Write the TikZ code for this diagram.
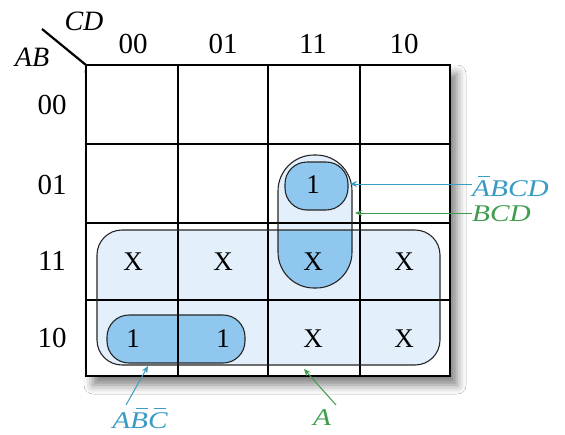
\documentclass[tikz,border=0pt]{standalone}
\usepackage{fontspec}
\setmainfont{Liberation Serif}
\usetikzlibrary{shadows.blur,arrows.meta}
\definecolor{lightfill}{HTML}{E3EFFA}
\definecolor{darkfill}{HTML}{8FC7EE}
\definecolor{tealc}{HTML}{3A9CC4}
\definecolor{greenc}{HTML}{3F9E4E}
\newcommand{\ovl}[1]{\leavevmode\makebox[0pt][l]{\hspace{0.2em}\rule[0.8em]{0.42em}{0.045em}}#1}
\tikzset{
  hdr/.style={font=\fontsize{29}{32}\selectfont, inner sep=0pt},
  cell/.style={font=\fontsize{27}{30}\selectfont, inner sep=0pt},
  lbl/.style={font=\fontsize{24}{27}\selectfont\itshape, inner sep=0pt, xscale=1.22, anchor=west},
  grid/.style={line width=2.2pt, black},
  outl/.style={line width=1.1pt, black!85},
  tarrow/.style={line width=1pt, -{Stealth[length=7pt,width=6pt]}},
}
\begin{document}
\begin{tikzpicture}[x=1pt,y=-1pt]
\useasboundingbox (0,0) rectangle (565,434);
\fill[white] (0,0) rectangle (565,434);
% shadow
\fill[white, blur shadow={shadow xshift=7pt, shadow yshift=-9pt, shadow blur radius=9pt, shadow opacity=50}] (86,65) rectangle (450,376);
% group fills
\fill[lightfill, rounded corners=25pt] (97,230) rectangle (440,365);
\fill[lightfill, rounded corners=36pt] (278,155) rectangle (352,288);
\begin{scope}
  \clip[rounded corners=25pt] (97,230) rectangle (440,365);
  \fill[darkfill, rounded corners=36pt] (278,155) rectangle (352,288);
\end{scope}
\fill[darkfill, rounded corners=22pt] (285,162) rectangle (348,210);
\fill[darkfill, rounded corners=22pt] (107,315) rectangle (245,363);
% grid
\draw[grid] (86,65) rectangle (450,376);
\foreach \x in {178,268,360} \draw[grid] (\x,65) -- (\x,376);
\foreach \y in {144,223,300} \draw[grid] (86,\y) -- (450,\y);
\draw[line width=2.2pt] (42,29) -- (86,65);
% group outlines
\draw[outl, rounded corners=25pt] (97,230) rectangle (440,365);
\draw[outl, rounded corners=36pt] (278,155) rectangle (352,288);
\draw[outl, rounded corners=22pt] (285,162) rectangle (348,210);
\draw[outl, rounded corners=22pt] (107,315) rectangle (245,363);
\coordinate (gABCD) at (350,184);
\coordinate (gBCD) at (355,213);
\coordinate (gABC) at (148,366);
\coordinate (gA) at (304,369);
% headers
\node[hdr, font=\fontsize{28}{31}\selectfont\itshape] (cd) at (84,21) {CD};
\node[hdr, font=\fontsize{28}{31}\selectfont\itshape] (ab) at (32,57) {AB};
\node[hdr] (c00) at (133,44) {00};
\node[hdr] (c01) at (223,44) {01};
\node[hdr] (c11) at (313,44) {11};
\node[hdr] (c10) at (404,44) {10};
\node[hdr] (r00) at (52,105) {00};
\node[hdr] (r01) at (52,185) {01};
\node[hdr] (r11) at (52,261) {11};
\node[hdr] (r10) at (52,338) {10};
% cell contents
\node[cell] (m1) at (313,185) {1};
\node[cell] (x1) at (133,262) {X};
\node[cell] (x2) at (223,262) {X};
\node[cell] (x3) at (313,262) {X};
\node[cell] (x4) at (404,262) {X};
\node[cell] (m2) at (133,339) {1};
\node[cell] (m3) at (223,339) {1};
\node[cell] (x5) at (313,339) {X};
\node[cell] (x6) at (404,339) {X};
% labels
\node[lbl, text=tealc] (lABCD) at (472,186) {\ovl{A}BCD};
\node[lbl, text=greenc] (lBCD) at (472,214) {BCD};
\node[lbl, text=tealc, anchor=center] (lABC) at (140,418) {A\ovl{B}\ovl{C}};
\node[lbl, text=greenc, anchor=center] (lA) at (322,418) {A};
% connectors
\coordinate (sABC) at (126,405);
\coordinate (sA) at (336,405);
\draw[tarrow, tealc] (lABCD.west |- gABCD) -- (gABCD);
\draw[tarrow, greenc] (lBCD.west |- gBCD) -- (gBCD);
\draw[tarrow, tealc] (sABC) -- (gABC);
\draw[tarrow, greenc] (sA) -- (gA);
\end{tikzpicture}
\end{document}
